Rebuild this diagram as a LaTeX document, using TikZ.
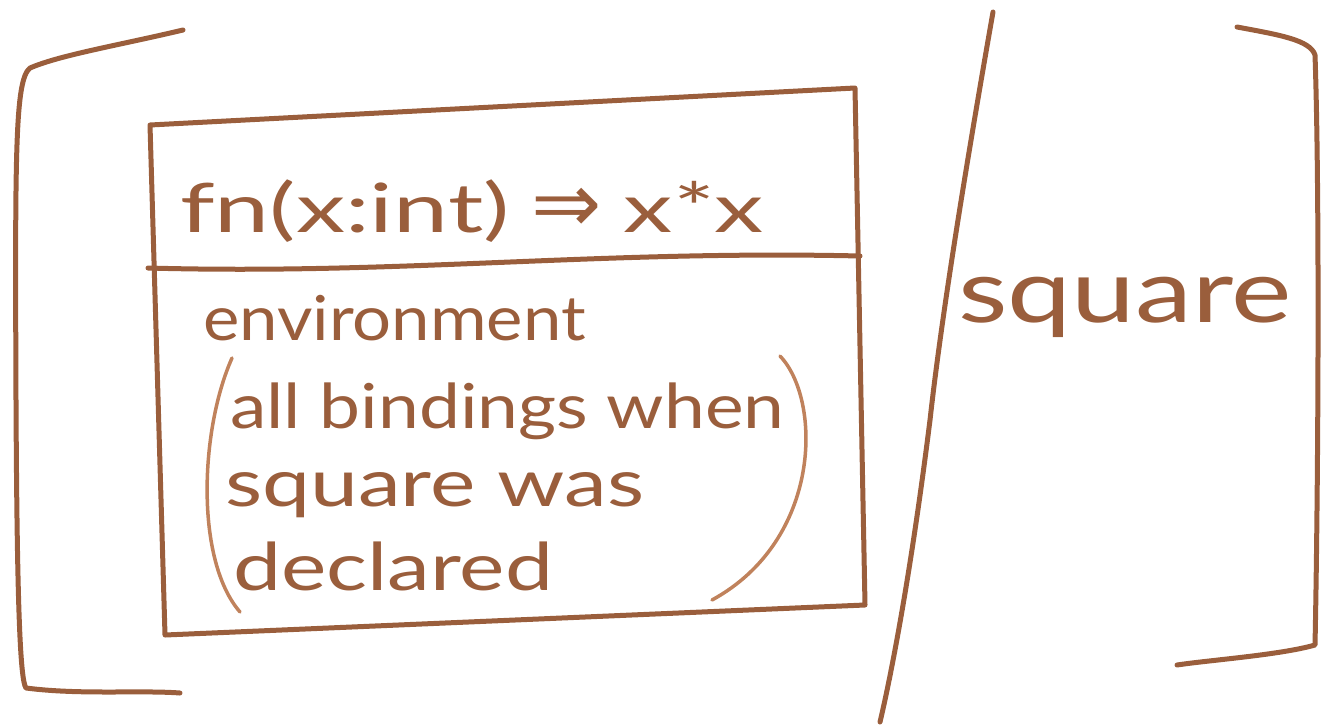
\documentclass[tikz,border=0pt]{standalone}
\usepackage{fontspec}
\setmainfont{Lato}
\newfontfamily\symfont{DejaVu Sans}
\usepackage{xcolor}
\usetikzlibrary{positioning}

\definecolor{ink}{HTML}{9A5E3C}
\definecolor{inklight}{HTML}{C0825C}
\newcommand\handfont[2]{\fontsize{#1}{#1}\selectfont\addfontfeature{FakeStretch=#2}}

\begin{document}
\begin{tikzpicture}[x=1pt, y=-1pt,
    pen/.style={draw=ink, line width=5pt, line cap=round, line join=round},
    thinpen/.style={draw=inklight, line width=3.5pt, line cap=round},
    script/.style={text=ink, inner sep=0pt, anchor=base west}
]
\useasboundingbox (0,0) rectangle (1330,726);

% frame of the closure
\draw[pen] (150,125) -- (855,88) -- (865,605) -- (165,635) -- cycle;
\draw[pen] (148,268) .. controls (400,275) and (600,250) .. (860,256);

% code of the function
\node[script, font=\handfont{68}{1.45}] (sig) at (180,232)
  {fn(x:int)\hspace{22pt}{\symfont\fontsize{84}{84}\selectfont ⇒}\hspace{22pt}x*x};

% environment
\node[script, font=\handfont{62}{1.11}] (env) at (203,340) {environment};
\node[script, font=\handfont{62}{1.18}] (bind1) at ([xshift=27pt, yshift=-88pt]env.base west) {all bindings when};
\node[script, font=\handfont{66}{1.3}] (bind2) at ([xshift=-5pt, yshift=-78pt]bind1.base west) {square was};
\node[script, font=\handfont{66}{1.3}] (bind3) at ([xshift=8pt, yshift=-84pt]bind2.base west) {declared};
\draw[thinpen] (232,358) .. controls (200,430) and (195,560) .. (240,612);
\draw[thinpen] (780,356) .. controls (822,400) and (822,540) .. (712,600);

% outer brackets
\draw[pen] (183,30) .. controls (120,45) and (60,55) .. (30,68)
           .. controls (15,80) and (15,150) .. (16,400)
           .. controls (17,600) and (20,680) .. (26,688)
           .. controls (80,695) and (140,690) .. (180,693);
\draw[pen] (993,12) .. controls (960,200) and (940,330) .. (930,420)
           .. controls (910,580) and (890,680) .. (880,722);
\draw[pen] (1237,27) .. controls (1280,35) and (1310,40) .. (1315,55)
           .. controls (1320,200) and (1318,500) .. (1315,645)
           .. controls (1280,655) and (1210,660) .. (1177,665);

% name bound to the closure
\node[script, font=\handfont{88}{1.3}] (name) at (958,322) {square};
\end{tikzpicture}
\end{document}
